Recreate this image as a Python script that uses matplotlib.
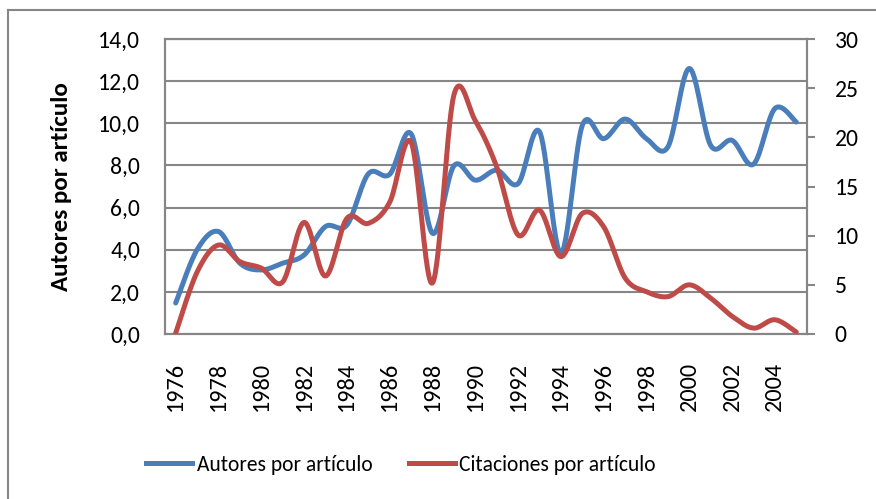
import numpy as np
import matplotlib
matplotlib.use("Agg")
import matplotlib.pyplot as plt
from matplotlib.lines import Line2D
from matplotlib import font_manager

years = list(range(1976, 2006))
autores = [1.47, 4.0, 4.86, 3.36, 3.04, 3.36, 3.75, 5.1, 5.17, 7.6, 7.58, 9.5, 4.78, 7.98,
           7.3, 7.77, 7.14, 9.6, 3.83, 9.9, 9.27, 10.2, 9.27, 8.88, 12.6, 8.95, 9.19, 8.06, 10.7, 10.06]
citaciones = [0.1, 6.3, 9.05, 7.36, 6.7, 5.3, 11.35, 5.9, 11.76, 11.25, 13.4, 19.5, 5.2, 24.3,
              21.7, 17.0, 10.07, 12.6, 7.87, 12.26, 10.9, 5.7, 4.3, 3.8, 5.0, 3.65, 1.8, 0.6, 1.45, 0.2]
left_ticks = [0, 2, 4, 6, 8, 10, 12, 14]
right_ticks = [0, 5, 10, 15, 20, 25, 30]

names = {f.name for f in font_manager.fontManager.ttflist}
fam = 'Lato'
for cand in ['Carlito', 'Liberation Sans Narrow', 'DejaVu Sans Condensed', 'Roboto Condensed',
             'Open Sans Condensed']:
    if cand in names:
        fam = cand
        break
plt.rcParams['font.family'] = [fam, 'DejaVu Sans']
narrow = fam != 'Lato'
TICK = 17 if narrow else 16.5
XTICK = 17.5 if narrow else 16.5
LEG = 15.5 if narrow else 14
YLAB = 18 if narrow else 17.5

BLUE = '#4A7EBB'
RED = '#BE4B48'
GRID = '#868686'


def smooth(y, n=30):
    # Excel-style smoothed line: Bezier/Catmull-Rom through the data points
    y = np.asarray(y, float)
    x = np.arange(len(y), dtype=float)
    xp = np.concatenate([[x[0]], x, [x[-1]]])
    yp = np.concatenate([[y[0]], y, [y[-1]]])
    xs, ys = [], []
    for i in range(len(y) - 1):
        p0, p1, p2, p3 = yp[i], yp[i + 1], yp[i + 2], yp[i + 3]
        q0, q1, q2, q3 = xp[i], xp[i + 1], xp[i + 2], xp[i + 3]
        c1y = p1 + (p2 - p0) / 6
        c2y = p2 - (p3 - p1) / 6
        c1x = q1 + (q2 - q0) / 6
        c2x = q2 - (q3 - q1) / 6
        t = np.linspace(0, 1, n, endpoint=(i == len(y) - 2))
        b0 = (1 - t) ** 3
        b1 = 3 * (1 - t) ** 2 * t
        b2 = 3 * (1 - t) * t ** 2
        b3 = t ** 3
        xs.append(b0 * q1 + b1 * c1x + b2 * c2x + b3 * q2)
        ys.append(b0 * p1 + b1 * c1y + b2 * c2y + b3 * p2)
    return np.concatenate(xs), np.concatenate(ys)


fig = plt.figure(figsize=(8.76, 4.99), dpi=100)
ax = fig.add_axes([165 / 876, 1 - 334 / 499, (807 - 165) / 876, (334 - 39) / 499])
ax2 = ax.twinx()

xs, ys = smooth(autores)
ax.plot(xs, ys, color=BLUE, lw=3.6, solid_capstyle='round', zorder=3)
xs2, ys2 = smooth(citaciones)
ax2.plot(xs2, ys2, color=RED, lw=3.6, solid_capstyle='round', zorder=3)

ax.set_xlim(-0.5, len(years) - 0.5)
ax.set_ylim(0, 14)
ax2.set_ylim(0, 30)
ax.set_yticks(left_ticks)
ax.set_yticklabels([f"{v:.1f}".replace('.', ',') for v in left_ticks])
ax2.set_yticks(right_ticks)
ax2.set_yticklabels([str(v) for v in right_ticks])
ax.set_xticks(range(0, len(years), 2))
ax.set_xticklabels([str(y) for y in years[::2]], rotation=90)

ax.grid(axis='y', color=GRID, lw=1.5)
ax.set_axisbelow(True)
for a in (ax, ax2):
    for s in a.spines.values():
        s.set_color(GRID)
        s.set_linewidth(1.5)
ax.tick_params(axis='y', length=0, pad=18, labelsize=TICK)
ax.tick_params(axis='x', length=0, pad=20, labelsize=XTICK)
ax2.tick_params(axis='y', length=6, width=1.5, color=GRID, pad=14, labelsize=TICK)
ax.set_zorder(0)
ax2.set_zorder(1)
ax2.patch.set_visible(False)

fig.text(61 / 876, 1 - 186.5 / 499, 'Autores por artículo', rotation=90, ha='center', va='center',
         fontsize=YLAB, fontweight='bold')

handles = [Line2D([], [], color=BLUE, lw=3.6), Line2D([], [], color=RED, lw=3.6)]
fig.legend(handles, ['Autores por artículo', 'Citaciones por artículo'], loc='center',
           bbox_to_anchor=(401 / 876, 1 - 465 / 499), ncol=2, frameon=False, fontsize=LEG,
           handlelength=2.15, handletextpad=0.2, columnspacing=1.7)

fig.add_artist(Line2D([8 / 876, 8 / 876], [0, 1 - 10 / 499], transform=fig.transFigure, color=GRID, lw=1.5))
fig.add_artist(Line2D([8 / 876, 1], [1 - 10 / 499, 1 - 10 / 499], transform=fig.transFigure, color=GRID, lw=1.5))

fig.savefig('out.png', dpi=100)
